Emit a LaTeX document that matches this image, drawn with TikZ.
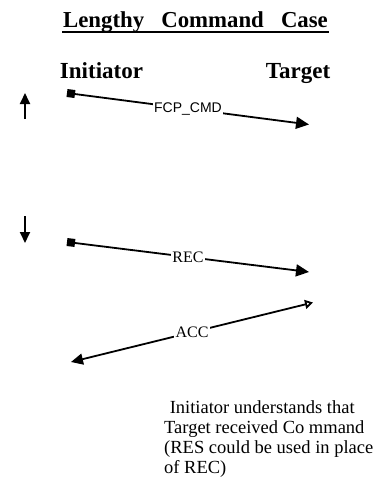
\documentclass[tikz,border=0pt]{standalone}
\usepackage{fontspec}
\setmainfont{Liberation Serif}
\newfontfamily\lblsans{Liberation Sans}
\usetikzlibrary{arrows.meta}

\begin{document}
\begin{tikzpicture}[x=1pt, y=-1pt,
		msg/.style={line width=1.8pt},
		lbl/.style={fill=white, inner sep=1.5pt, font=\fontsize{16}{18}\selectfont},
		party/.style={anchor=base, font=\fontsize{23}{26}\selectfont\bfseries},
		tick/.style={line width=1.8pt, -{Triangle[length=11pt,width=10pt]}}]
		\useasboundingbox (0,0) rectangle (383,480);
		
		% Title
		\node[anchor=base, font=\fontsize{22.8}{26}\selectfont\bfseries] (title) at (195.5,27)
			{Lengthy\hspace{0.75em}Command\hspace{0.75em}Case};
		\draw[line width=2pt] (62,31.7) -- (329,31.7);
		
		% Parties
		\node[party] (init) at (101.5,78) {Initiator};
		\node[party] (targ) at (298,78) {Target};
		
		% Time direction
		\coordinate (upB) at (25,119);
		\coordinate (upT) at (25,93);
		\draw[tick] (upB) -- (upT);
		\coordinate (dnT) at (25,216);
		\coordinate (dnB) at (25,243);
		\draw[tick] (dnT) -- (dnB);
		
		% Messages
		\coordinate (iCmd) at (67,93);
		\coordinate (tCmd) at (309,124.5);
		\draw[msg, {Square[length=8pt,width=8pt]}-{Triangle[length=13pt,width=12pt]}] (iCmd) -- node[lbl, font=\lblsans\fontsize{14}{16}\selectfont] (cmd) {FCP\_CMD} (tCmd);
		
		\coordinate (iRec) at (67,242);
		\coordinate (tRec) at (309,272);
		\draw[msg, {Square[length=8pt,width=8pt]}-{Triangle[length=13pt,width=12pt]}] (iRec) -- node[lbl] (rec) {REC} (tRec);
		
		\coordinate (tAcc) at (313,302.5);
		\coordinate (iAcc) at (71,362);
		\draw[msg, {Triangle[open,length=8pt,width=9pt]}-{Triangle[length=12pt,width=11pt]}] (tAcc) -- node[lbl] (acc) {ACC} (iAcc);
		
		% Note
		\node[anchor=base west, align=left, inner sep=0pt, font=\fontsize{18.5}{20}\selectfont] (note) at (164,473)
			{\hspace{0.3em}Initiator understands that\\Target received Co mmand\\(RES could be used in place\\of REC)};
	\end{tikzpicture}
\end{document}
